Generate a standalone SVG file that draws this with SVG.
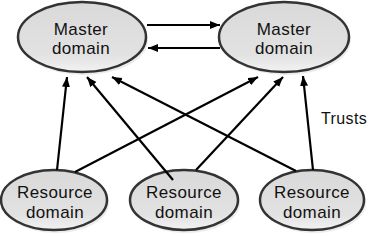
<svg xmlns="http://www.w3.org/2000/svg" width="372" height="236" viewBox="0 0 372 236">
<defs>
<linearGradient id="g" x1="0" y1="0" x2="0" y2="1">
<stop offset="0" stop-color="#d9d9d9"/>
<stop offset="0.75" stop-color="#e2e2e2"/>
<stop offset="1" stop-color="#f2f2f2"/>
</linearGradient>
<marker id="ah" markerUnits="userSpaceOnUse" markerWidth="12" markerHeight="10" refX="10" refY="4" orient="auto">
<path d="M0,0 L10,4 L0,8 Z" fill="#000"/>
</marker>
<style>
.node ellipse{fill:url(#g);stroke:#333;stroke-width:2.5}
.node ellipse.sh{fill:#ececec;stroke:none}
text{font-family:"Liberation Sans",Arial,sans-serif;font-size:17px;fill:#111;text-anchor:middle;letter-spacing:0.4px}
.conn line{stroke:#000;stroke-width:2.2;marker-end:url(#ah)}
</style>
</defs>
<rect width="372" height="236" fill="#fff"/>
<g id="master1" class="node">
<ellipse class="sh" cx="84" cy="40" rx="64" ry="35"/>
<ellipse cx="82" cy="37" rx="64" ry="35"/>
<text x="81" y="35">Master</text>
<text x="81" y="54">domain</text>
</g>
<g id="master2" class="node">
<ellipse class="sh" cx="286" cy="40" rx="65" ry="35"/>
<ellipse cx="284" cy="37" rx="65" ry="35"/>
<text x="284" y="35">Master</text>
<text x="284" y="54">domain</text>
</g>
<g id="resource1" class="node">
<ellipse class="sh" cx="56" cy="203" rx="53" ry="30"/>
<ellipse cx="54" cy="200" rx="53" ry="30"/>
<text x="55" y="198">Resource</text>
<text x="55" y="218">domain</text>
</g>
<g id="resource2" class="node">
<ellipse class="sh" cx="186" cy="203" rx="54" ry="30"/>
<ellipse cx="184" cy="200" rx="54" ry="30"/>
<text x="184" y="198">Resource</text>
<text x="184" y="218">domain</text>
</g>
<g id="resource3" class="node">
<ellipse class="sh" cx="314" cy="203" rx="52" ry="30"/>
<ellipse cx="312" cy="200" rx="52" ry="30"/>
<text x="312" y="198">Resource</text>
<text x="312" y="218">domain</text>
</g>
<g id="connectors" class="conn">
<line x1="147" y1="25" x2="220" y2="25"/>
<line x1="220" y1="48" x2="148" y2="48"/>
<line x1="57" y1="170" x2="67" y2="77"/>
<line x1="75" y1="172" x2="258" y2="77"/>
<line x1="173" y1="180" x2="87" y2="77"/>
<line x1="196" y1="170" x2="283" y2="77"/>
<line x1="296" y1="171" x2="112" y2="77"/>
<line x1="313" y1="170" x2="303" y2="76"/>
</g>
<text x="321" y="124" style="text-anchor:start;font-size:16px">Trusts</text>
</svg>
